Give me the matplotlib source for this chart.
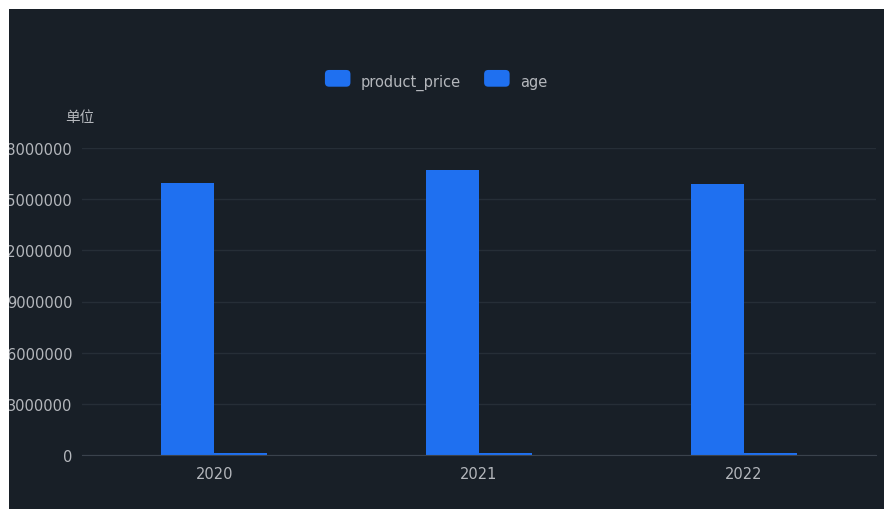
import matplotlib.pyplot as plt
import numpy as np
from matplotlib.patches import Rectangle, FancyBboxPatch
from matplotlib.legend_handler import HandlerBase

years = ['2020', '2021', '2022']
product_price = [15950000, 16700000, 15880000]
age = [100000, 100000, 100000]
yticks = [0, 3000000, 6000000, 9000000, 12000000, 15000000, 18000000]

bg = '#181f27'
blue = '#1f70f0'
txt = '#b4b7bc'
grid = '#262e37'

plt.rcParams['font.family'] = ['DejaVu Sans', 'Noto Sans CJK SC']


class RoundBox(HandlerBase):
    def create_artists(self, legend, orig, xd, yd, w, h, fs, trans):
        p = FancyBboxPatch((xd, yd - 1.5), w, h + 3, boxstyle='round,pad=0,rounding_size=3',
                           fc=blue, ec='none', transform=trans)
        return [p]


fig = plt.figure(figsize=(8.84, 5.10), dpi=100)
fig.patch.set_facecolor(bg)
ax = fig.add_axes([82 / 884, 1 - 456 / 510, (876 - 82) / 884, (456 - 149) / 510])
ax.set_facecolor(bg)

x = np.arange(len(years))
w = 0.2
b1 = ax.bar(x - w / 2, product_price, w, color=blue, label='product_price', zorder=3)
b2 = ax.bar(x + w / 2, age, w, color=blue, label='age', zorder=3)

ax.set_xlim(-0.5, len(years) - 0.5)
ax.set_ylim(0, 18000000)
ax.set_xticks(x)
ax.set_xticklabels(years)
ax.set_yticks(yticks)
ax.set_yticklabels([str(v) for v in yticks])
ax.tick_params(axis='both', length=0, colors=txt, labelsize=10.5)
ax.tick_params(axis='y', pad=7)
ax.tick_params(axis='x', pad=8)
ax.grid(axis='y', color=grid, linewidth=1, zorder=0)
for s in ['top', 'right', 'left']:
    ax.spines[s].set_visible(False)
ax.spines['bottom'].set_color('#3a424c')
ax.spines['bottom'].set_zorder(4)

fig.text(65 / 884, 1 - 118 / 510, '单位', color=txt, fontsize=10.5,
         va='center', ha='left', family=['Noto Sans CJK SC', 'DejaVu Sans'])

fig.legend(handles=[b1, b2], labels=['product_price', 'age'], loc='center',
           bbox_to_anchor=(436 / 884, 1 - 83 / 510), ncol=2, frameon=False,
           handlelength=1.75, handleheight=0.95, handletextpad=0.7,
           columnspacing=1.6, fontsize=10.5, labelcolor=txt,
           handler_map={b1: RoundBox(), b2: RoundBox()})

# white margin where the screenshot cuts the panel
fig.add_artist(Rectangle((0, 0), 9 / 884, 1, transform=fig.transFigure,
                         fc='white', ec='none', zorder=10))
fig.add_artist(Rectangle((0, 1 - 10 / 510), 1, 10 / 510, transform=fig.transFigure,
                         fc='white', ec='none', zorder=10))

fig.savefig('out.png', dpi=100, facecolor=bg)
